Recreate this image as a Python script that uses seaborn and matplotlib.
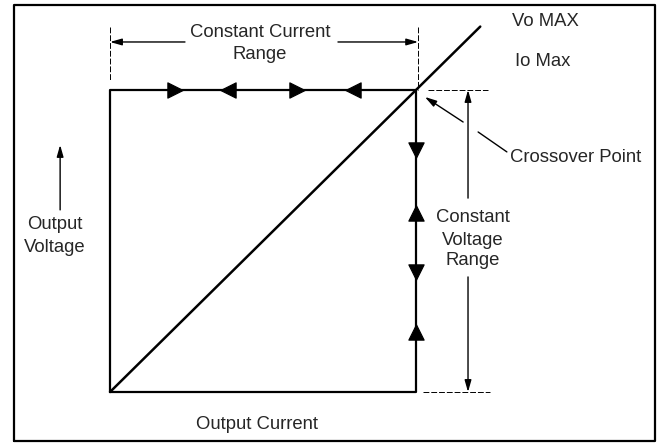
import matplotlib
matplotlib.use("Agg")
import matplotlib.pyplot as plt
import seaborn as sns
import pandas as pd

# units: output current / output voltage normalised to Io max / Vo max
rect_x = [0, 0, 1, 1, 0]
rect_y = [0, 1, 1, 0, 0]
load_x = [0, 1.21]
load_y = [0, 1.21]

frame_x = [-0.314, -0.314, 1.781, 1.781, -0.314]
frame_y = [-0.162, 1.281, 1.281, -0.162, -0.162]

# direction markers along the operating locus
cc_marks_x = [0.212, 0.386, 0.611, 0.794]
cc_marks_dir = [">", "<", ">", "<"]
cv_marks_y = [0.801, 0.593, 0.397, 0.199]
cv_marks_dir = ["v", "^", "v", "^"]

# dashed extension lines
dash_segments = [
    ([0.0, 0.0], [1.209, 1.033]),
    ([1.007, 1.007], [1.209, 1.0]),
    ([1.039, 1.235], [1.0, 1.0]),
    ([1.023, 1.242], [0.0, 0.0]),
]

sns.set_style("white")
plt.rcParams["font.family"] = ["Liberation Sans", "DejaVu Sans"]
FS = 13.3

fig = plt.figure(figsize=(6.57, 4.44), dpi=100)
ax = fig.add_axes([0, 0, 1, 1])
ax.set_xlim(-0.3595, 1.7876)
ax.set_ylim(-0.1722, 1.298)
ax.axis("off")


def seg(xs, ys, lw=1.6, ls="-"):
    df = pd.DataFrame({"x": xs, "y": ys, "i": range(len(xs))})
    sns.lineplot(data=df, x="x", y="y", sort=False, estimator=None, color="black",
                 lw=lw, linestyle=ls, ax=ax)


seg(frame_x, frame_y, lw=1.6)
seg(rect_x, rect_y, lw=1.6)
seg(load_x, load_y, lw=1.8)
for xs, ys in dash_segments:
    seg(xs, ys, lw=0.7, ls=(0, (6, 2)))

for x, m in zip(cc_marks_x, cc_marks_dir):
    sns.scatterplot(x=[x], y=[1.0], marker=m, s=120, color="black", edgecolor="black", ax=ax)
for y, m in zip(cv_marks_y, cv_marks_dir):
    sns.scatterplot(x=[1.0], y=[y], marker=m, s=120, color="black", edgecolor="black", ax=ax)

arrow = dict(arrowstyle="-|>,head_length=0.7,head_width=0.2", color="black", lw=1.0,
             shrinkA=0, shrinkB=0)

# constant current range
ax.annotate("", xy=(0.0, 1.159), xytext=(0.245, 1.159), arrowprops=arrow)
ax.annotate("", xy=(1.007, 1.159), xytext=(0.745, 1.159), arrowprops=arrow)
ax.text(0.49, 1.189, "Constant Current", ha="center", va="center", fontsize=FS)
ax.text(0.49, 1.116, "Range", ha="center", va="center", fontsize=FS)

# constant voltage range
ax.annotate("", xy=(1.170, 1.0), xytext=(1.170, 0.642), arrowprops=arrow)
ax.annotate("", xy=(1.170, 0.0), xytext=(1.170, 0.381), arrowprops=arrow)
for txt, y in zip(["Constant", "Voltage", "Range"], [0.579, 0.503, 0.437]):
    ax.text(1.186, y, txt, ha="center", va="center", fontsize=FS)

# crossover point
ax.annotate("", xy=(1.029, 0.977), xytext=(1.154, 0.894), arrowprops=arrow)
seg([1.203, 1.297], [0.861, 0.795], lw=1.0)
ax.text(1.307, 0.778, "Crossover Point", ha="left", va="center", fontsize=FS)

ax.text(1.314, 1.228, "Vo MAX", ha="left", va="center", fontsize=FS)
ax.text(1.324, 1.096, "Io Max", ha="left", va="center", fontsize=FS)

# axis labels
ax.annotate("", xy=(-0.163, 0.818), xytext=(-0.163, 0.603), arrowprops=arrow)
ax.text(-0.18, 0.553, "Output", ha="center", va="center", fontsize=FS)
ax.text(-0.18, 0.480, "Voltage", ha="center", va="center", fontsize=FS)
ax.text(0.48, -0.109, "Output Current", ha="center", va="center", fontsize=FS)

fig.savefig("out.png", dpi=100)
